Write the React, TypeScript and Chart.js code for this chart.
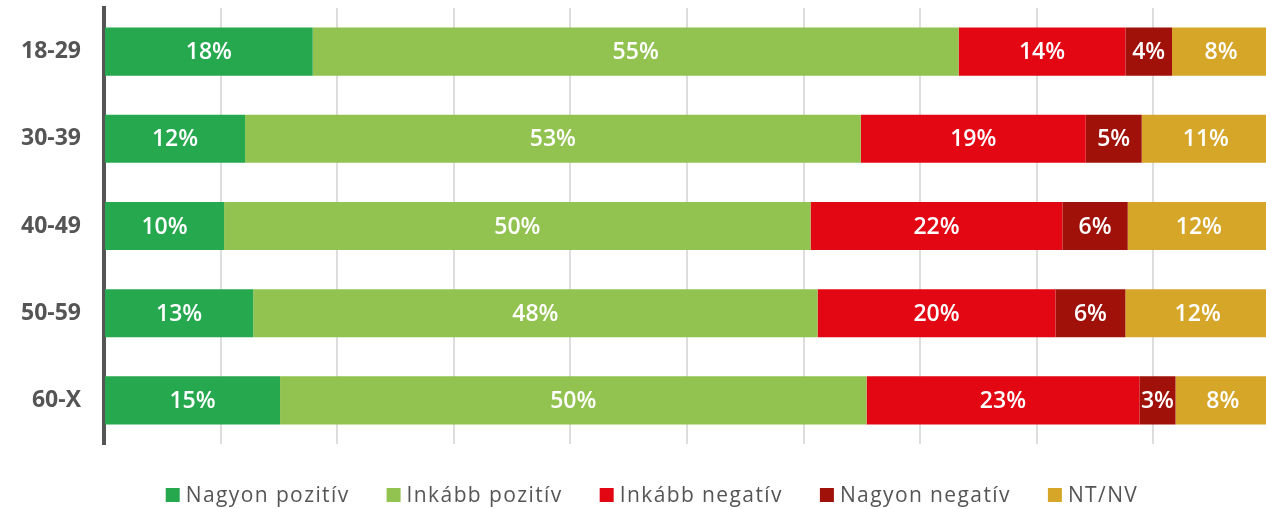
import React, { useEffect, useRef } from "react";
import { Chart, registerables } from "chart.js";

Chart.register(...registerables);

// ---- Data ----
const categories = ["18-29", "30-39", "40-49", "50-59", "60-X"];
const seriesNames = ["Nagyon pozitív", "Inkább pozitív", "Inkább negatív", "Nagyon negatív", "NT/NV"];
const nagyonPozitiv = [17.9, 12.1, 10.3, 12.8, 15.1];
const inkabbPozitiv = [55.4, 52.8, 50.3, 48.4, 50.3];
const inkabbNegativ = [14.3, 19.3, 21.6, 20.4, 23.4];
const nagyonNegativ = [4.0, 4.8, 5.6, 6.0, 3.1];
const ntNv = [8.4, 11.0, 12.2, 12.4, 8.1];
const seriesColors = ["#26a84f", "#92c350", "#e30613", "#a01109", "#d6a629"];
const xMax = 99.66; // visible part of the 0–100% axis (the 100% end falls just beyond the canvas)
const xStep = 10;

const FONT = "'Open Sans', 'DejaVu Sans', sans-serif";

const valueLabels = {
  id: "valueLabels",
  afterDatasetsDraw(chart: any) {
    const ctx = chart.ctx;
    const area = chart.chartArea;
    ctx.save();
    ctx.fillStyle = "#ffffff";
    ctx.font = `600 23px ${FONT}`;
    ctx.textAlign = "center";
    ctx.textBaseline = "middle";
    chart.data.datasets.forEach((ds: any, i: number) => {
      const meta = chart.getDatasetMeta(i);
      meta.data.forEach((el: any, j: number) => {
        const v = ds.data[j];
        const right = Math.min(el.x, area.right + 4);
        const cx = (right + el.base) / 2;
        ctx.fillText(Math.round(v) + "%", cx, el.y + 1);
      });
    });
    ctx.restore();
  },
};

const customLegend = {
  id: "customLegend",
  afterDraw(chart: any) {
    const ctx = chart.ctx;
    ctx.save();
    ctx.font = `400 21px ${FONT}`;
    try {
      (ctx as any).letterSpacing = "1.4px";
    } catch (e) {}
    const box = 14;
    const gap = 6;
    const spacing = 37;
    const widths = chart.data.datasets.map((ds: any) => box + gap + ctx.measureText(ds.label).width);
    const total = widths.reduce((a: number, b: number) => a + b, 0) + spacing * (widths.length - 1);
    let x = 652 - total / 2;
    const cy = 495;
    ctx.textBaseline = "middle";
    ctx.textAlign = "left";
    chart.data.datasets.forEach((ds: any, i: number) => {
      ctx.fillStyle = ds.backgroundColor;
      ctx.fillRect(x, cy - box / 2, box, box);
      ctx.fillStyle = "#555555";
      ctx.fillText(ds.label, x + box + gap, cy + 1);
      x += widths[i] + spacing;
    });
    ctx.restore();
  },
};

export default function App() {
  const ref = useRef<HTMLCanvasElement | null>(null);

  useEffect(() => {
    if (!ref.current) return;
    const seriesData = [nagyonPozitiv, inkabbPozitiv, inkabbNegativ, nagyonNegativ, ntNv];
    const chart = new Chart(ref.current, {
      type: "bar",
      data: {
        labels: categories,
        datasets: seriesData.map((d, i) => ({
          label: seriesNames[i],
          data: d,
          backgroundColor: seriesColors[i],
          borderWidth: 0,
          categoryPercentage: 0.552,
          barPercentage: 1,
        })),
      },
      options: {
        indexAxis: "y",
        responsive: false,
        animation: false,
        devicePixelRatio: 1,
        layout: { padding: { top: 8, right: 0, bottom: 65, left: 0 } },
        plugins: {
          legend: { display: false },
          tooltip: { enabled: false },
        },
        scales: {
          x: {
            stacked: true,
            min: 0,
            max: xMax,
            ticks: { display: false, stepSize: xStep },
            grid: {
              color: (c: any) =>
                c.tick && Math.abs(c.tick.value % xStep) < 1e-6 ? "#dddddd" : "rgba(0,0,0,0)",
              lineWidth: 2,
              drawTicks: false,
            },
            border: { display: false },
          },
          y: {
            stacked: true,
            ticks: {
              color: "#555555",
              font: { family: FONT, size: 23, weight: "bold" },
              padding: 23,
            },
            grid: { drawOnChartArea: false, drawTicks: false },
            border: { display: true, color: "#555555", width: 4 },
            afterFit: (s: any) => {
              s.width = 104;
              s.paddingTop = 0;
              s.paddingBottom = 0;
            },
          },
        },
      },
      plugins: [valueLabels, customLegend],
    } as any);
    return () => chart.destroy();
  }, []);

  return (
    <div style={{ position: "fixed", left: 0, top: 0, width: 1266, height: 509, background: "#fff" }}>
      <canvas ref={ref} width={1266} height={509} />
    </div>
  );
}
